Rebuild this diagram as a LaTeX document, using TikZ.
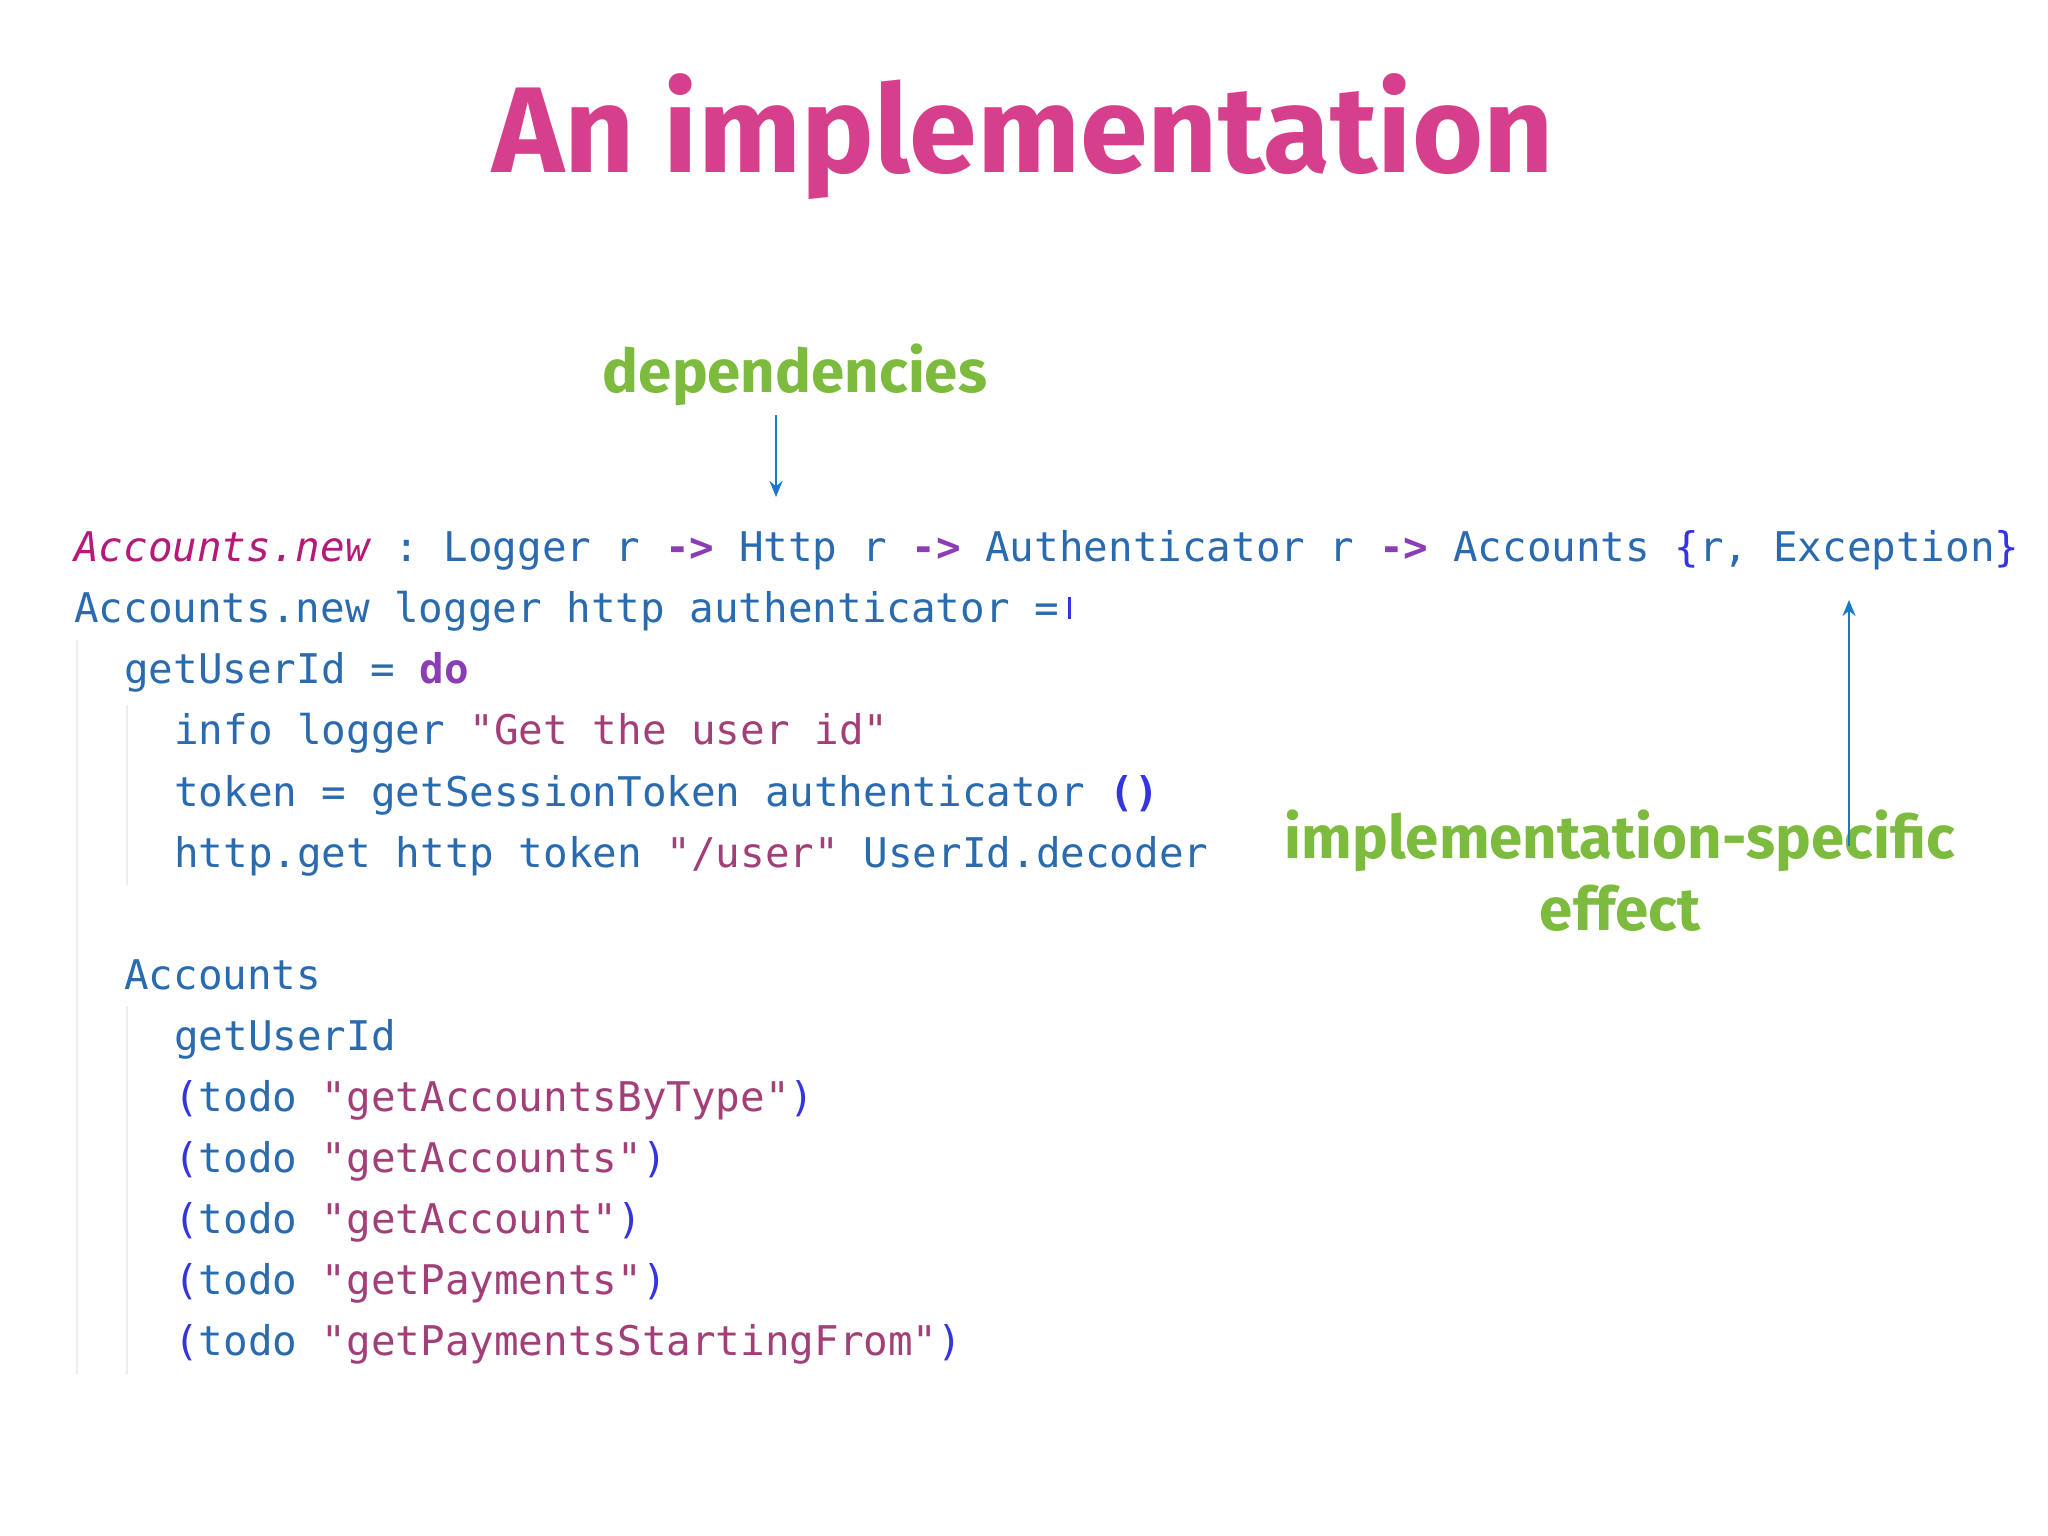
\documentclass[tikz,border=0pt]{standalone}
\usepackage{fontspec}
\usetikzlibrary{arrows.meta}
\setmonofont{DejaVu Sans Mono}
\newfontfamily\titlefont{Fira Sans}
\definecolor{ttl}{HTML}{D63F8C}
\definecolor{grn}{HTML}{7DBB3E}
\definecolor{cb}{HTML}{2A6AAE}
\definecolor{cm}{HTML}{B5197A}
\definecolor{cs}{HTML}{A23F78}
\definecolor{cp}{HTML}{8A3DB5}
\definecolor{cpar}{HTML}{3535E0}
\definecolor{arr}{HTML}{1A78C8}
\newcommand{\Mg}[1]{\textcolor{cm}{#1}}
\newcommand{\St}[1]{\textcolor{cs}{#1}}
\newcommand{\Ar}{\textcolor{cp}{\bfseries ->}}
\newcommand{\Pa}[1]{\textcolor{cpar}{\bfseries #1}}
\newcommand{\Pb}[1]{\textcolor{cpar}{#1}}
\begin{document}
\begin{tikzpicture}[x=1pt,y=-1pt,
  code/.style={anchor=base west,inner sep=0,font=\ttfamily\fontsize{40.9}{48}\selectfont,text=cb},
  lbl/.style={inner sep=0,font=\titlefont\bfseries\fontsize{60}{68}\selectfont,text=grn,align=center},
  guide/.style={draw=black!7,line width=2.5},
  pointer/.style={draw=arr,line width=2.4,-{Stealth[length=16,width=13]}}]
\useasboundingbox (0,0) rectangle (2048,1536);
\node[inner sep=0,font=\titlefont\bfseries\fontsize{122}{130}\selectfont,text=ttl,anchor=base] (title) at (1023,172) {An implementation};
\node[lbl,anchor=base] (dep) at (795,392) {dependencies};
\node[lbl,anchor=base] (impl) at (1620,930) {implementation-specific\\[4pt]effect};
\def\L#1{561.6+61.1*#1}
\draw[guide] (77,640) -- (77,1374);
\draw[guide] (127,705) -- (127,885);
\draw[guide] (127,1006) -- (127,1374);
\node[code] (l0) at (74,{\L0}) {\Mg{\itshape Accounts.new} : Logger r \Ar{} Http r \Ar{} Authenticator r \Ar{} Accounts \Pb{\{}r, Exception\Pb{\}}};
\node[code] (l1) at (74,{\L1}) {Accounts.new logger http authenticator = };
\draw[cpar,line width=2.5] (l1.base east) ++(10,-26) -- ++(0,22);
\node[code] (l2) at (124,{\L2}) {getUserId = \textcolor{cp}{\bfseries do}};
\node[code] (l3) at (174,{\L3}) {info logger \St{"Get the user id"}};
\node[code] (l4) at (174,{\L4}) {token = getSessionToken authenticator \Pa{()}};
\node[code] (l5) at (174,{\L5}) {http.get http token \St{"/user"} UserId.decoder};
\node[code] (l7) at (124,{\L7}) {Accounts};
\node[code] (l8) at (174,{\L8}) {getUserId};
\node[code] (l9) at (174,{\L9}) {\Pb{(}todo \St{"getAccountsByType"}\Pb{)}};
\node[code] (l10) at (174,{\L{10}}) {\Pb{(}todo \St{"getAccounts"}\Pb{)}};
\node[code] (l11) at (174,{\L{11}}) {\Pb{(}todo \St{"getAccount"}\Pb{)}};
\node[code] (l12) at (174,{\L{12}}) {\Pb{(}todo \St{"getPayments"}\Pb{)}};
\node[code] (l13) at (174,{\L{13}}) {\Pb{(}todo \St{"getPaymentsStartingFrom"}\Pb{)}};
\coordinate (a1s) at (776,415); \coordinate (a1e) at (776,497);
\coordinate (a2s) at (1849,846); \coordinate (a2e) at (1849,600);
\draw[pointer] (a1s) -- (a1e);
\draw[pointer] (a2s) -- (a2e);
\end{tikzpicture}
\end{document}
